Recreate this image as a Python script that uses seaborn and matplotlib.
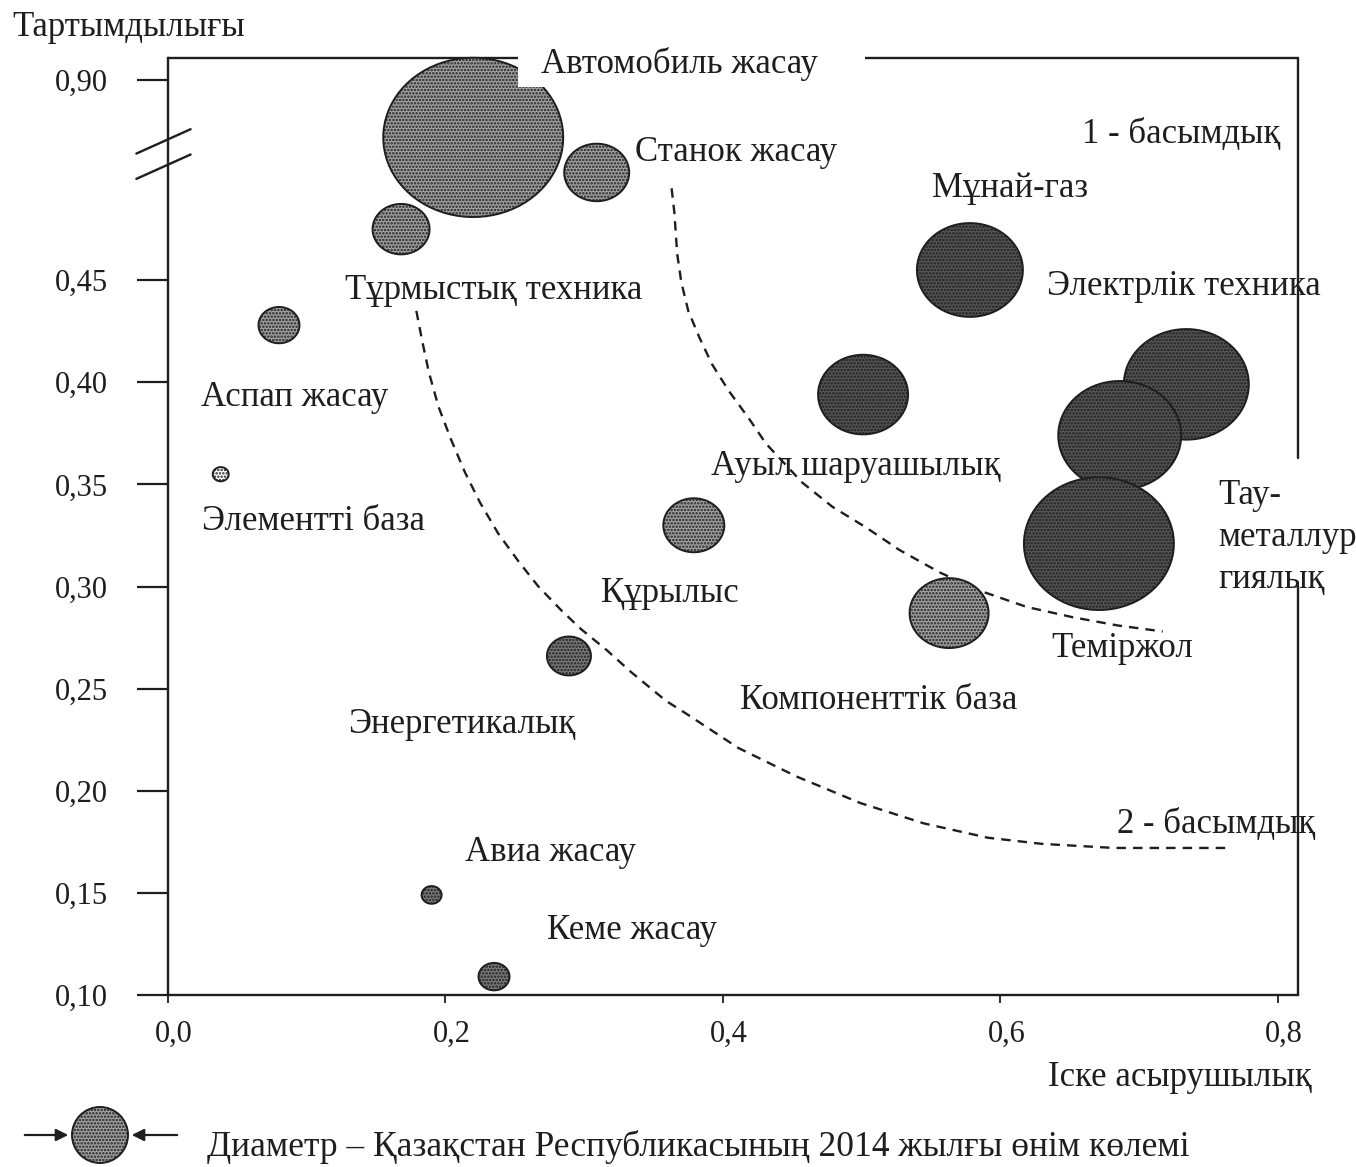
import numpy as np
import pandas as pd
import seaborn as sns
import matplotlib.pyplot as plt
from matplotlib.patches import Circle, Rectangle
from matplotlib.path import Path
from matplotlib.transforms import ScaledTranslation

# ---- data ----
industries = ['Автомобиль жасау', 'Станок жасау', 'Тұрмыстық техника', 'Аспап жасау',
              'Элементті база', 'Құрылыс', 'Энергетикалық', 'Авиа жасау', 'Кеме жасау',
              'Мұнай-газ', 'Электрлік техника', 'Ауыл шаруашылық', 'Теміржол',
              'Тау-\nметаллур\nгиялық', 'Компоненттік база']
realisability = [0.220, 0.309, 0.168, 0.080, 0.038, 0.379, 0.289, 0.190, 0.235,
                 0.578, 0.734, 0.501, 0.686, 0.671, 0.563]
attractiveness = [0.666, 0.523, 0.475, 0.428, 0.355, 0.330, 0.266, 0.149, 0.109,
                  0.455, 0.399, 0.394, 0.374, 0.321, 0.287]
# output volume 2014 (bubble diameter, relative units)
volume = [180, 65, 57, 41, 16, 61, 44, 20, 31, 106, 125, 90, 123, 150, 79]

# dashed priority borders
border2_x = [0.179, 0.183, 0.188, 0.195, 0.204, 0.214, 0.225, 0.238, 0.253, 0.267,
             0.284, 0.298, 0.316, 0.334, 0.359, 0.373, 0.411, 0.453, 0.499, 0.545,
             0.591, 0.630, 0.682, 0.725, 0.765]
border2_y = [0.435, 0.421, 0.405, 0.388, 0.372, 0.356, 0.341, 0.326, 0.312, 0.300,
             0.288, 0.279, 0.269, 0.258, 0.244, 0.238, 0.221, 0.207, 0.194, 0.184,
             0.177, 0.174, 0.172, 0.172, 0.172]
border1_x = [0.363, 0.365, 0.367, 0.370, 0.375, 0.383, 0.392, 0.404, 0.419, 0.431,
             0.457, 0.479, 0.503, 0.527, 0.556, 0.585, 0.619, 0.652, 0.684, 0.717]
border1_y = [0.495, 0.483, 0.463, 0.449, 0.435, 0.422, 0.409, 0.396, 0.382, 0.370,
             0.351, 0.339, 0.329, 0.318, 0.307, 0.298, 0.290, 0.285, 0.281, 0.278]

y_ticks = [0.10, 0.15, 0.20, 0.25, 0.30, 0.35, 0.40, 0.45, 0.90]
x_ticks = [0.0, 0.2, 0.4, 0.6, 0.8]

# ---- styling ----
light, mid, dark = '#a2a2a2', '#7a7a7a', '#555555'
ink = '#1e1e1e'
tone = {'Автомобиль жасау': light, 'Станок жасау': light, 'Тұрмыстық техника': light,
        'Аспап жасау': light, 'Элементті база': 'white', 'Құрылыс': light,
        'Энергетикалық': mid, 'Авиа жасау': mid, 'Кеме жасау': mid,
        'Мұнай-газ': dark, 'Электрлік техника': dark, 'Ауыл шаруашылық': dark,
        'Теміржол': dark, 'Тау-\nметаллур\nгиялық': dark, 'Компоненттік база': light}
# label position relative to bubble centre, in pixels (right, up)
label_shift = [(68, 73), (38, 20), (-56, -61), (-78, -72), (-19, -47), (-93, -68),
               (-221, -69), (33, 42), (53, 46), (-38, 81), (-139, 98), (-152, -72),
               (-68, -213), (119, 6), (-209, -87)]

df = pd.DataFrame({'industry': industries, 'x': realisability, 'y': attractiveness,
                   'area': np.array(volume) ** 2})

sns.set_theme(style='white')
plt.rcParams['font.family'] = ['Liberation Serif', 'DejaVu Serif']
plt.rcParams['hatch.linewidth'] = 1.2

DPI = 100
fig = plt.figure(figsize=(13.56, 11.67), dpi=DPI)
ax = fig.add_axes([168 / 1356, 172 / 1167, 1130 / 1356, 937 / 1167])

# broken y axis: above 0.5 the scale is squeezed
def fwd(v):
    v = np.asarray(v, dtype=float)
    return np.where(v <= 0.5, v, 0.5 + (v - 0.5) * 0.12)

def inv(v):
    v = np.asarray(v, dtype=float)
    return np.where(v <= 0.5, v, 0.5 + (v - 0.5) / 0.12)

ax.set_yscale('function', functions=(fwd, inv))
ax.set_xlim(0, 0.8145)
ax.set_ylim(0.10, 0.99)

# the scanned bubbles are a little wider than tall
t = np.linspace(0, 2 * np.pi, 80)
oval = Path(np.column_stack([np.cos(t), 0.885 * np.sin(t)]), closed=True)

px2pt = 72 / DPI
smax = (max(volume) * px2pt) ** 2
sns.scatterplot(data=df, x='x', y='y', hue='industry', palette=tone,
                size='area', sizes=(0, smax), size_norm=(0, max(volume) ** 2),
                marker=oval, edgecolor=ink, linewidth=1.4, hatch='.....',
                legend=False, ax=ax, clip_on=False, zorder=3)

ax.plot(border2_x, border2_y, ls=(0, (4, 3)), color=ink, lw=1.7, zorder=2)
ax.plot(border1_x, border1_y, ls=(0, (4, 3)), color=ink, lw=1.7, zorder=2)

for name, x, y, (dx, dy) in zip(industries, realisability, attractiveness, label_shift):
    ax.annotate(name, (x, y), xytext=(dx * px2pt, dy * px2pt), textcoords='offset points',
                ha='left', va='center', fontsize=25, color=ink,
                linespacing=1.36, zorder=4, annotation_clip=False)

ax.text(1.0 - 18 / 1130, 1 - 77 / 937, '1 - басымдық', transform=ax.transAxes,
        ha='right', va='center', fontsize=25, color=ink)
ax.text(1.0 + 17 / 1130, 171 / 937, '2 - басымдық', transform=ax.transAxes,
        ha='right', va='center', fontsize=25, color=ink)

# axes and ticks
ax.set_xticks(x_ticks)
ax.set_xticklabels([f'{v:.1f}'.replace('.', ',') for v in x_ticks])
ax.set_yticks(y_ticks)
ax.set_yticklabels([f'{v:.2f}'.replace('.', ',') for v in y_ticks])
ax.tick_params(axis='y', left=True, direction='out', length=22, width=1.6,
               pad=21, labelsize=22, colors=ink)
ax.tick_params(axis='x', bottom=True, direction='out', length=6, width=1.3,
               pad=12, labelsize=22, colors=ink)
nudge = ScaledTranslation(6 / DPI, 0, fig.dpi_scale_trans)
for lab in ax.get_xticklabels():
    lab.set_transform(lab.get_transform() + nudge)
ax.minorticks_off()
ax.set_xlabel('')
ax.set_ylabel('')
ax.grid(False)
for side in ['top', 'right']:
    ax.spines[side].set_visible(False)
for side in ['left', 'bottom']:
    ax.spines[side].set_color(ink)
    ax.spines[side].set_linewidth(1.7)

# frame pieces with gaps, and the axis break marks
frame = dict(transform=ax.transAxes, color=ink, lw=1.7, clip_on=False)
ax.plot([0, 1], [1, 1], **frame)
ax.plot([1, 1], [1, 0.5736], **frame)
ax.plot([1, 1], [0.437, 0], **frame)
ax.plot([-0.028, 0.020], [0.898, 0.924], **frame)
ax.plot([-0.028, 0.020], [0.871, 0.897], **frame)
# white box behind the "Автомобиль жасау" label cuts the frame and the bubble
ax.add_patch(Rectangle((0.3097, 0.969), 0.3071, 0.08, transform=ax.transAxes,
                       facecolor='white', edgecolor='none', zorder=3.5, clip_on=False))

fig.text(12 / 1356, 1 - 27 / 1167, 'Тартымдылығы', ha='left', va='center',
         fontsize=25, color=ink)
fig.text(1312 / 1356, 1 - 1077 / 1167, 'Іске асырушылық', ha='right', va='center',
         fontsize=25, color=ink)

# diameter key
fig.add_artist(Circle((1.00, 0.32), 0.28, transform=fig.dpi_scale_trans,
                      facecolor=light, edgecolor=ink, lw=1.4, hatch='.....'))
ax.annotate('', xy=(71, 32), xytext=(22, 32), xycoords='figure pixels',
            textcoords='figure pixels',
            arrowprops=dict(arrowstyle='-|>', color=ink, lw=1.6, mutation_scale=18))
ax.annotate('', xy=(129, 32), xytext=(180, 32), xycoords='figure pixels',
            textcoords='figure pixels',
            arrowprops=dict(arrowstyle='-|>', color=ink, lw=1.6, mutation_scale=18))
fig.text(207 / 1356, 1 - 1147 / 1167,
         'Диаметр – Қазақстан Республикасының 2014 жылғы өнім көлемі',
         ha='left', va='center', fontsize=25.5, color=ink)

fig.savefig('out.png', dpi=DPI)
